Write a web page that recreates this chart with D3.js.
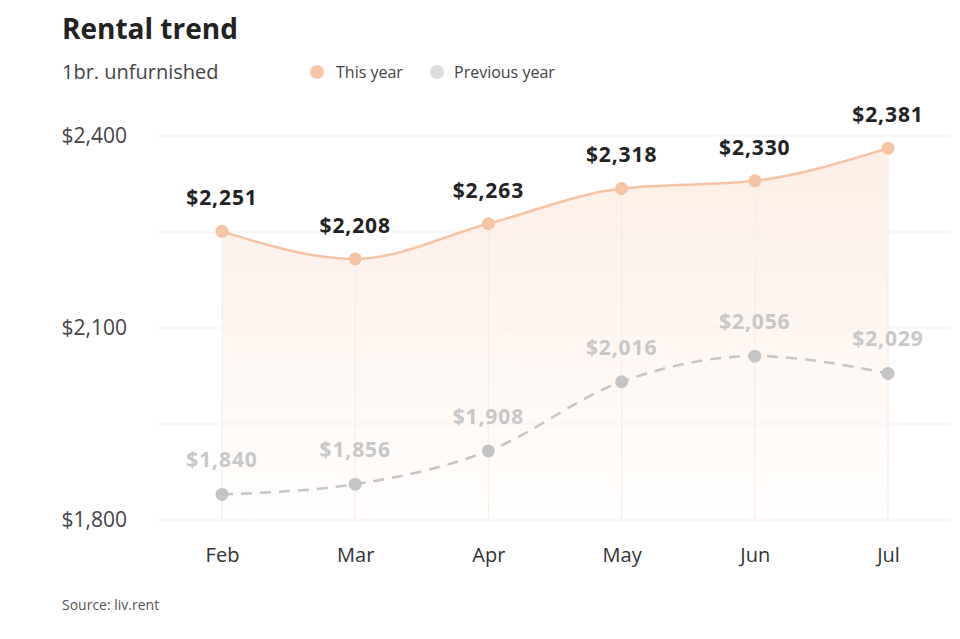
<!DOCTYPE html>
<html>
<head>
<meta charset="utf-8">
<script src="https://cdn.jsdelivr.net/npm/d3@7"></script>
<style>
  html, body { margin: 0; padding: 0; background: #fff; }
  svg { display: block; font-family: "Open Sans", sans-serif; }
</style>
</head>
<body>
<svg id="chart" width="960" height="639"></svg>
<script>
const months = ["Feb", "Mar", "Apr", "May", "Jun", "Jul"];
const thisYear = [2251, 2208, 2263, 2318, 2330, 2381];
const prevYear = [1840, 1856, 1908, 2016, 2056, 2029];
const yTickLabels = [1800, 2100, 2400];
const yGridValues = [1800, 1950, 2100, 2250, 2400];

const svg = d3.select("#chart");

const x = d3.scalePoint().domain(months).range([222, 888]);
const y = d3.scaleLinear().domain([1800, 2400]).range([520, 136]);
const fmt = v => "$" + d3.format(",")(v);

const cur = months.map((m, i) => ({ m, v: thisYear[i] }));
const prev = months.map((m, i) => ({ m, v: prevYear[i] }));

// gradient
const defs = svg.append("defs");
const grad = defs.append("linearGradient").attr("id", "areaGrad")
  .attr("x1", 0).attr("y1", 0).attr("x2", 0).attr("y2", 1);
grad.append("stop").attr("offset", "0%").attr("stop-color", "#fbe3d3").attr("stop-opacity", 0.6);
grad.append("stop").attr("offset", "100%").attr("stop-color", "#fbe3d3").attr("stop-opacity", 0.05);

// title
svg.append("text").attr("x", 62).attr("y", 39)
  .attr("font-size", 28).attr("font-weight", 700).attr("fill", "#222")
  .text("Rental trend");
svg.append("text").attr("x", 62).attr("y", 79)
  .attr("font-size", 20).attr("fill", "#444")
  .text("1br. unfurnished");

// legend
const legend = [
  { label: "This year", color: "#f7c4a5", cx: 317, tx: 336 },
  { label: "Previous year", color: "#dcdcdc", cx: 437, tx: 454 }
];
legend.forEach(l => {
  svg.append("circle").attr("cx", l.cx).attr("cy", 72).attr("r", 7).attr("fill", l.color);
  svg.append("text").attr("x", l.tx).attr("y", 78).attr("font-size", 16)
    .attr("fill", "#444").text(l.label);
});

// horizontal gridlines
svg.append("g").selectAll("line").data(yGridValues).join("line")
  .attr("x1", 155).attr("x2", 951)
  .attr("y1", d => y(d)).attr("y2", d => y(d))
  .attr("stroke", "#f1f1f1").attr("stroke-width", 1.2);

// y axis labels
const yAxis = svg.append("g").attr("transform", "translate(127,0)")
  .call(d3.axisLeft(y).tickValues(yTickLabels).tickFormat(fmt).tickSize(0).tickPadding(0));
yAxis.select(".domain").remove();
yAxis.selectAll("text").attr("font-size", 21).attr("fill", "#444")
  .attr("font-family", "Open Sans, sans-serif");

// x axis
const xAxis = svg.append("g").attr("transform", "translate(0,520)")
  .call(d3.axisBottom(x).tickSize(0).tickPadding(28));
xAxis.select(".domain").remove();
xAxis.selectAll("text").attr("font-size", 20).attr("fill", "#333")
  .attr("font-family", "Open Sans, sans-serif");

// area
const curve = d3.curveMonotoneX;
const area = d3.area().x(d => x(d.m)).y0(y(1800)).y1(d => y(d.v)).curve(curve);
svg.append("path").datum(cur).attr("d", area).attr("fill", "url(#areaGrad)");

// vertical lines inside the area
svg.append("g").selectAll("line").data(cur).join("line")
  .attr("x1", d => x(d.m)).attr("x2", d => x(d.m))
  .attr("y1", d => y(d.v)).attr("y2", y(1800))
  .attr("stroke", "#f3ebe6").attr("stroke-width", 1);

const line = d3.line().x(d => x(d.m)).y(d => y(d.v)).curve(curve);

// previous year
svg.append("path").datum(prev).attr("d", line)
  .attr("fill", "none").attr("stroke", "#c6c6c6").attr("stroke-width", 2.5)
  .attr("stroke-dasharray", "11,8");
svg.append("g").selectAll("circle").data(prev).join("circle")
  .attr("cx", d => x(d.m)).attr("cy", d => y(d.v)).attr("r", 6.5).attr("fill", "#c4c4c4");
svg.append("g").selectAll("text").data(prev).join("text")
  .attr("x", d => x(d.m)).attr("y", d => y(d.v) - 27)
  .attr("text-anchor", "middle").attr("font-size", 21).attr("font-weight", 700)
  .attr("letter-spacing", 0.9).attr("fill", "#c8c8c8")
  .text(d => fmt(d.v));

// this year
svg.append("path").datum(cur).attr("d", line)
  .attr("fill", "none").attr("stroke", "#f6c3a3").attr("stroke-width", 2.5);
svg.append("g").selectAll("circle").data(cur).join("circle")
  .attr("cx", d => x(d.m)).attr("cy", d => y(d.v)).attr("r", 6.5).attr("fill", "#f6c3a3");
svg.append("g").selectAll("text").data(cur).join("text")
  .attr("x", d => x(d.m)).attr("y", d => y(d.v) - 26)
  .attr("text-anchor", "middle").attr("font-size", 21).attr("font-weight", 700)
  .attr("letter-spacing", 0.9).attr("fill", "#222")
  .text(d => fmt(d.v));

// source
svg.append("text").attr("x", 62).attr("y", 610).attr("font-size", 14)
  .attr("fill", "#555").text("Source: liv.rent");
</script>
</body>
</html>
